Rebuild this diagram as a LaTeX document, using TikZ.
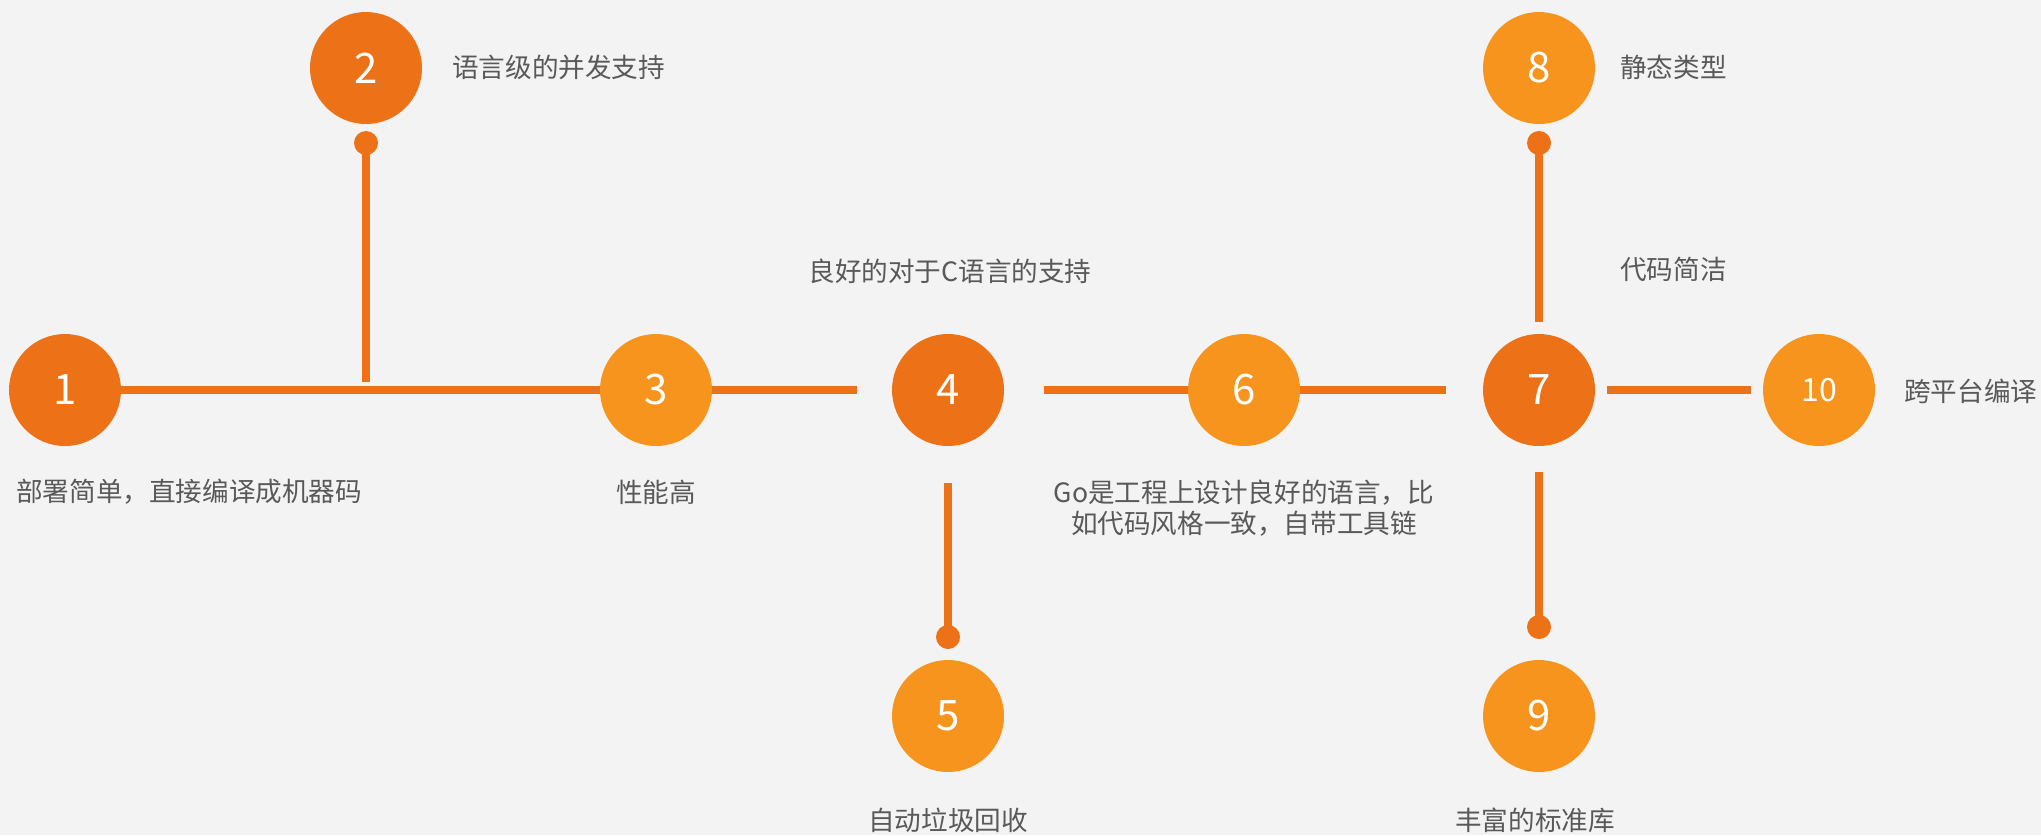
\documentclass[tikz,border=0pt]{standalone}
\usepackage{fontspec}
\setmainfont{Noto Sans CJK SC}
\usetikzlibrary{calc}
\definecolor{darkor}{HTML}{EC7117}
\definecolor{lightor}{HTML}{F7941D}
\definecolor{txtgray}{HTML}{595959}
\definecolor{bggray}{HTML}{F3F3F3}
\begin{document}
\begin{tikzpicture}[x=1pt,y=-1pt,
  ball/.style={circle,minimum size=112pt,inner sep=0pt,text=white,font=\fontsize{42}{42}\selectfont},
  darkball/.style={ball,fill=darkor},
  lightball/.style={ball,fill=lightor},
  conn/.style={draw=darkor,line width=8pt},
  dotnode/.style={circle,fill=darkor,minimum size=24pt,inner sep=0pt},
  lbl/.style={text=txtgray,font=\fontsize{26.6}{31}\selectfont,inner sep=0pt}]
\fill[bggray] (0,0) rectangle (2041,835);
\useasboundingbox (0,0) rectangle (2041,835);

% circles
\node[darkball]  (n1)  at (65,390)   {1};
\node[darkball]  (n2)  at (366,68)   {2};
\node[lightball] (n3)  at (656,390)  {3};
\node[darkball]  (n4)  at (948,390)  {4};
\node[lightball] (n5)  at (948,716)  {5};
\node[lightball] (n6)  at (1244,390) {6};
\node[darkball]  (n7)  at (1539,390) {7};
\node[lightball] (n8)  at (1539,68)  {8};
\node[lightball] (n9)  at (1539,716) {9};
\node[lightball,font=\fontsize{32}{32}\selectfont] (n10) at (1819,390) {10};

% dots and junction
\node[dotnode] (d2) at (366,143) {};
\node[dotnode] (d5) at (948,637) {};
\node[dotnode] (d8) at (1539,143) {};
\node[dotnode] (d9) at (1539,627) {};
\coordinate (j2) at (366,382);

% connectors
\draw[conn] (n1) -- (n3);
\draw[conn] (d2.center) -- (j2);
\draw[conn,shorten >=35pt] (n3) -- (n4);
\draw[conn,shorten <=40pt] (n4) -- (n6);
\draw[conn,shorten <=37pt] (n4) -- (d5.center);
\draw[conn,shorten >=37pt] (n6) -- (n7);
\draw[conn,shorten >=12pt] (d8.center) -- (n7);
\draw[conn,shorten <=26pt] (n7) -- (d9.center);
\draw[conn,shorten <=12pt,shorten >=12pt] (n7) -- (n10);

% labels
\node[lbl,anchor=west] (t1) at (16,492) {部署简单，直接编译成机器码};
\node[lbl,anchor=west] (t2) at (452,67) {语言级的并发支持};
\node[lbl] (t3) at (656,492) {性能高};
\node[lbl] (t4) at (950,271) {良好的对于C语言的支持};
\node[lbl] (t5) at (948,820) {自动垃圾回收};
\node[lbl,align=center] (t6) at (1244,508) {Go是工程上设计良好的语言，比\\如代码风格一致，自带工具链};
\node[lbl,anchor=west] (t7) at (1620,269) {代码简洁};
\node[lbl,anchor=west] (t8) at (1620,67) {静态类型};
\node[lbl] (t9) at (1535,820) {丰富的标准库};
\node[lbl,anchor=west] (t10) at (1904,391) {跨平台编译};
\end{tikzpicture}
\end{document}
